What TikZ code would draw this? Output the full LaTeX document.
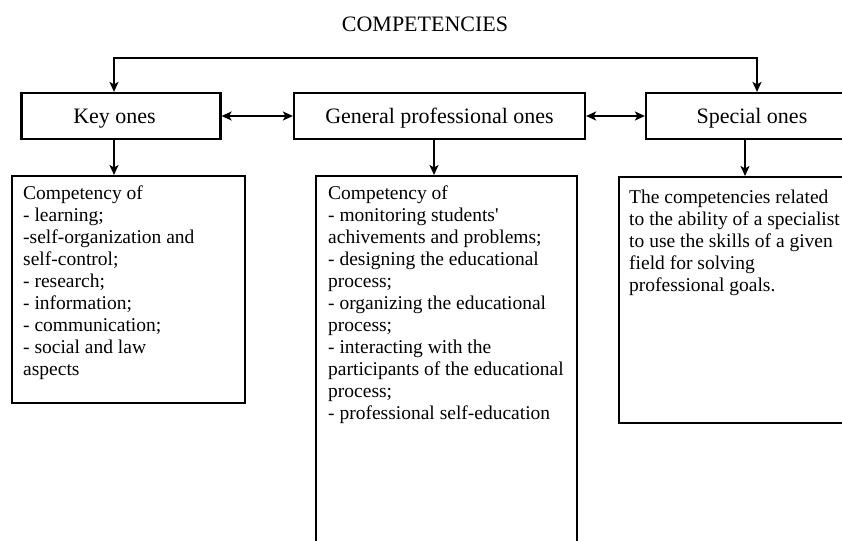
\documentclass[tikz,border=0pt]{standalone}
\usepackage{fontspec}
\setmainfont{Liberation Serif}
\usetikzlibrary{arrows.meta}

\tikzset{
  headbox/.style={draw, line width=2.2pt, minimum height=46pt, inner sep=0pt, text depth=0pt, font=\fontsize{22}{24}\selectfont},
  listbox/.style={draw, line width=2.2pt, anchor=north west, inner sep=0pt},
  listtext/.style={anchor=north west, align=left, inner sep=0pt, font=\fontsize{19.5}{22}\selectfont},
  link/.style={line width=2pt, -{Stealth[length=10pt,width=9pt,inset=2.5pt]}},
  twolink/.style={line width=2pt, {Stealth[length=10pt,width=9pt,inset=2.5pt]}-{Stealth[length=10pt,width=9pt,inset=2.5pt]}},
}

\begin{document}
\begin{tikzpicture}[x=1pt,y=-1pt]
    \useasboundingbox (0,0) rectangle (842,540);
    \clip (0,0) rectangle (842,540);

    \node[font=\fontsize{22}{24}\selectfont] (title) at (425,24) {COMPETENCIES};

    % top row
    \node[headbox, minimum width=199pt] (key) at (121,116) {\hspace*{-13pt}Key ones};
    \node[headbox, minimum width=291pt] (gen) at (439.5,116) {General professional ones};
    \node[headbox, minimum width=212pt] (spec) at (752,116) {Special ones};

    % lower boxes
    \node[listbox, minimum width=233pt, minimum height=227pt] (keylist) at (11,175) {};
    \node[listbox, minimum width=261pt, minimum height=380pt] (genlist) at (315,175) {};
    \node[listbox, minimum width=240pt, minimum height=246pt] (speclist) at (618,176) {};

    \node[listtext] (keytext) at ([shift={(12,11)}]keylist.north west) {Competency of\\
        - learning;\\
        -self-organization and\\
        self-control;\\
        - research;\\
        - information;\\
        - communication;\\
        - social and law\\
        aspects};
    \node[listtext] (gentext) at ([shift={(13,11)}]genlist.north west) {Competency of\\
        - monitoring students\textquotesingle\\
        achivements and problems;\\
        - designing the educational\\
        process;\\
        - organizing the educational\\
        process;\\
        - interacting with the\\
        participants of the educational\\
        process;\\
        - professional self-education};
    \node[listtext] (spectext) at ([shift={(11,14)}]speclist.north west) {The competencies related\\
        to the ability of a specialist\\
        to use the skills of a given\\
        field for solving\\
        professional goals.};

    % arrows
    \coordinate (rail) at (0,58);
    \coordinate (keytop) at ([xshift=-7pt]key.north);
    \coordinate (spectop) at ([xshift=5pt]spec.north);
    \draw[twolink] (keytop) -- (keytop |- rail) -- (spectop |- rail) -- (spectop);

    \draw[twolink] (key.east) -- (gen.west);
    \draw[twolink] (gen.east) -- (spec.west);

    \coordinate (keydown) at ([xshift=-7pt]key.south);
    \coordinate (gendown) at ([xshift=-5.5pt]gen.south);
    \coordinate (specdown) at ([xshift=-7pt]spec.south);
    \draw[link] (keydown) -- (keydown |- keylist.north);
    \draw[link] (gendown) -- (gendown |- genlist.north);
    \draw[link] (specdown) -- (specdown |- speclist.north);
\end{tikzpicture}
\end{document}
